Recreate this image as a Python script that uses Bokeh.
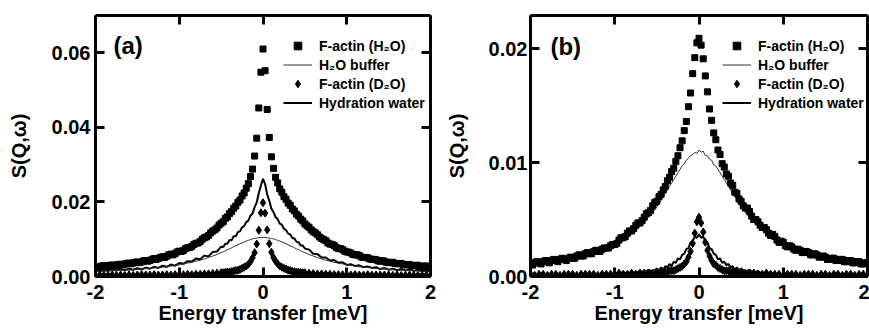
from bokeh.plotting import figure
from bokeh.models import (Range1d, LinearAxis, FixedTicker, Legend, LegendItem,
                          Label, PrintfTickFormatter, CustomJSTickFormatter)
from bokeh.layouts import row
from bokeh.embed import file_html
from bokeh.resources import INLINE

# ---------------- data ----------------
# energy grid used by the lines and the diamond series
ENERGY = [
    -2.0, -1.95, -1.9, -1.85, -1.8, -1.75, -1.7, -1.65, -1.6, -1.55, -1.5, -1.45, -1.4, -1.35, -1.3,
    -1.25, -1.2, -1.15, -1.1, -1.05, -1.0, -0.95, -0.9, -0.85, -0.8, -0.75, -0.7, -0.65, -0.6, -0.55,
    -0.5, -0.475, -0.45, -0.425, -0.4, -0.375, -0.35, -0.325, -0.3, -0.275, -0.25, -0.225, -0.2,
    -0.175, -0.15, -0.125, -0.1, -0.075, -0.05, -0.025,
    0.0,
    0.025, 0.05, 0.075, 0.1, 0.125, 0.15, 0.175, 0.2, 0.225, 0.25, 0.275, 0.3, 0.325, 0.35, 0.375,
    0.4, 0.425, 0.45, 0.475, 0.5,
    0.55, 0.6, 0.65, 0.7, 0.75, 0.8, 0.85, 0.9, 0.95, 1.0, 1.05, 1.1, 1.15, 1.2, 1.25, 1.3, 1.35,
    1.4, 1.45, 1.5, 1.55, 1.6, 1.65, 1.7, 1.75, 1.8, 1.85, 1.9, 1.95, 2.0,
]
# finer energy grid used by the F-actin (H2O) square series
ENERGY_FINE = [
    -2.0, -1.975, -1.95, -1.925, -1.9, -1.875, -1.85, -1.825, -1.8, -1.775,
    -1.75, -1.725, -1.7, -1.675, -1.65, -1.625, -1.6, -1.575, -1.55, -1.525,
    -1.5, -1.475, -1.45, -1.425, -1.4, -1.375, -1.35, -1.325, -1.3, -1.275,
    -1.25, -1.225, -1.2, -1.175, -1.15, -1.125, -1.1, -1.075, -1.05, -1.025,
    -1.0, -0.975, -0.95, -0.925, -0.9, -0.875, -0.85, -0.825, -0.8, -0.775,
    -0.75, -0.725, -0.7, -0.675, -0.65, -0.625, -0.6, -0.575, -0.55, -0.525,
    -0.5, -0.475, -0.45, -0.425, -0.4, -0.375, -0.35, -0.325, -0.3, -0.275,
    -0.25, -0.225, -0.2, -0.175, -0.15, -0.125, -0.1, -0.075, -0.05, -0.025,
    0.0,
    0.025, 0.05, 0.075, 0.1, 0.125, 0.15, 0.175, 0.2, 0.225, 0.25,
    0.275, 0.3, 0.325, 0.35, 0.375, 0.4, 0.425, 0.45, 0.475, 0.5,
    0.525, 0.55, 0.575, 0.6, 0.625, 0.65, 0.675, 0.7, 0.725, 0.75,
    0.775, 0.8, 0.825, 0.85, 0.875, 0.9, 0.925, 0.95, 0.975, 1.0,
    1.025, 1.05, 1.075, 1.1, 1.125, 1.15, 1.175, 1.2, 1.225, 1.25,
    1.275, 1.3, 1.325, 1.35, 1.375, 1.4, 1.425, 1.45, 1.475, 1.5,
    1.525, 1.55, 1.575, 1.6, 1.625, 1.65, 1.675, 1.7, 1.725, 1.75,
    1.775, 1.8, 1.825, 1.85, 1.875, 1.9, 1.925, 1.95, 1.975, 2.0,
]

# panel (a)
FACTIN_H2O_A = [
    0.0027, 0.0025, 0.0026, 0.0028, 0.0029, 0.0027, 0.0028, 0.0030, 0.0031, 0.0029,
    0.0030, 0.0032, 0.0033, 0.0031, 0.0033, 0.0035, 0.0036, 0.0034, 0.0036, 0.0038,
    0.0039, 0.0037, 0.0039, 0.0042, 0.0043, 0.0041, 0.0043, 0.0046, 0.0048, 0.0046,
    0.0048, 0.0051, 0.0053, 0.0051, 0.0054, 0.0058, 0.0060, 0.0058, 0.0061, 0.0066,
    0.0068, 0.0067, 0.0070, 0.0075, 0.0077, 0.0078, 0.0081, 0.0086, 0.0089, 0.0090,
    0.0094, 0.0100, 0.0104, 0.0106, 0.0110, 0.0117, 0.0122, 0.0125, 0.0130, 0.0138,
    0.0143, 0.0147, 0.0156, 0.0160, 0.0169, 0.0174, 0.0183, 0.0189, 0.0199, 0.0205,
    0.0216, 0.0224, 0.0237, 0.0249, 0.0268, 0.0288, 0.0323, 0.0371, 0.0452, 0.0548,
    0.0610,
    0.0552, 0.0448, 0.0373, 0.0321, 0.0290, 0.0266, 0.0251, 0.0235, 0.0226, 0.0214,
    0.0207, 0.0197, 0.0191, 0.0181, 0.0176, 0.0167, 0.0162, 0.0154, 0.0149, 0.0141,
    0.0136, 0.0132, 0.0125, 0.0120, 0.0117, 0.0112, 0.0106, 0.0102, 0.0099, 0.0096,
    0.0090, 0.0087, 0.0086, 0.0083, 0.0078, 0.0075, 0.0075, 0.0072, 0.0068, 0.0066,
    0.0065, 0.0063, 0.0059, 0.0058, 0.0058, 0.0056, 0.0052, 0.0051, 0.0051, 0.0050,
    0.0047, 0.0046, 0.0046, 0.0045, 0.0042, 0.0041, 0.0042, 0.0041, 0.0038, 0.0037,
    0.0038, 0.0038, 0.0035, 0.0034, 0.0035, 0.0035, 0.0032, 0.0031, 0.0032, 0.0032,
    0.0029, 0.0029, 0.0030, 0.0030, 0.0027, 0.0027, 0.0028, 0.0028, 0.0025, 0.0025,
]
H2O_BUFFER_A = [
    0.0013, 0.0014, 0.0014, 0.0015, 0.0015, 0.0016, 0.0016, 0.0017, 0.0017, 0.0018,
    0.0019, 0.0020, 0.0021, 0.0021, 0.0023, 0.0024, 0.0025, 0.0026, 0.0028, 0.0030,
    0.0031, 0.0034, 0.0036, 0.0038, 0.0041, 0.0044, 0.0047, 0.0051, 0.0055, 0.0059,
    0.0064, 0.0066, 0.0069, 0.0072, 0.0074, 0.0077, 0.0080, 0.0082, 0.0085, 0.0088,
    0.0090, 0.0093, 0.0095, 0.0097, 0.0099, 0.0101, 0.0102, 0.0103, 0.0104, 0.0105,
    0.0105,
    0.0105, 0.0104, 0.0103, 0.0102, 0.0101, 0.0099, 0.0097, 0.0095, 0.0093, 0.0090,
    0.0088, 0.0085, 0.0082, 0.0080, 0.0077, 0.0074, 0.0072, 0.0069, 0.0066, 0.0064,
    0.0059, 0.0055, 0.0051, 0.0047, 0.0044, 0.0041, 0.0038, 0.0036, 0.0034, 0.0031,
    0.0030, 0.0028, 0.0026, 0.0025, 0.0024, 0.0023, 0.0021, 0.0021, 0.0020, 0.0019,
    0.0018, 0.0017, 0.0017, 0.0016, 0.0016, 0.0015, 0.0015, 0.0014, 0.0014, 0.0013,
]
FACTIN_D2O_A = [
    0.0003, 0.0004, 0.0003, 0.0003, 0.0004, 0.0003, 0.0004, 0.0003, 0.0004, 0.0003,
    0.0004, 0.0005, 0.0004, 0.0004, 0.0005, 0.0004, 0.0004, 0.0005, 0.0004, 0.0005,
    0.0005, 0.0005, 0.0006, 0.0005, 0.0006, 0.0006, 0.0007, 0.0007, 0.0008, 0.0009,
    0.0010, 0.0010, 0.0011, 0.0012, 0.0012, 0.0013, 0.0015, 0.0016, 0.0017, 0.0019,
    0.0022, 0.0025, 0.0028, 0.0033, 0.0040, 0.0050, 0.0064, 0.0087, 0.0124, 0.0171,
    0.0198,
    0.0170, 0.0125, 0.0088, 0.0065, 0.0051, 0.0041, 0.0034, 0.0028, 0.0025, 0.0022,
    0.0020, 0.0017, 0.0016, 0.0014, 0.0013, 0.0012, 0.0011, 0.0011, 0.0010, 0.0010,
    0.0009, 0.0008, 0.0007, 0.0007, 0.0006, 0.0006, 0.0005, 0.0005, 0.0005, 0.0005,
    0.0004, 0.0005, 0.0004, 0.0004, 0.0005, 0.0004, 0.0004, 0.0004, 0.0004, 0.0004,
    0.0003, 0.0004, 0.0003, 0.0003, 0.0004, 0.0003, 0.0003, 0.0003, 0.0004, 0.0003,
]
HYDRATION_A = [
    0.0017, 0.0014, 0.0018, 0.0015, 0.0019, 0.0016, 0.0020, 0.0017, 0.0021, 0.0018,
    0.0022, 0.0019, 0.0024, 0.0021, 0.0026, 0.0023, 0.0029, 0.0026, 0.0032, 0.0029,
    0.0036, 0.0034, 0.0041, 0.0040, 0.0048, 0.0046, 0.0056, 0.0054, 0.0066, 0.0067,
    0.0080, 0.0079, 0.0088, 0.0088, 0.0098, 0.0097, 0.0108, 0.0108, 0.0119, 0.0121,
    0.0132, 0.0135, 0.0146, 0.0150, 0.0163, 0.0169, 0.0186, 0.0199, 0.0224, 0.0244,
    0.0262,
    0.0248, 0.0220, 0.0203, 0.0182, 0.0173, 0.0159, 0.0154, 0.0142, 0.0139, 0.0128,
    0.0125, 0.0115, 0.0113, 0.0103, 0.0102, 0.0093, 0.0092, 0.0083, 0.0083, 0.0075,
    0.0072, 0.0061, 0.0060, 0.0051, 0.0051, 0.0043, 0.0044, 0.0037, 0.0038, 0.0031,
    0.0033, 0.0028, 0.0030, 0.0025, 0.0027, 0.0023, 0.0025, 0.0020, 0.0023, 0.0018,
    0.0021, 0.0017, 0.0020, 0.0016, 0.0019, 0.0015, 0.0018, 0.0014, 0.0017, 0.0014,
]

# panel (b)
FACTIN_H2O_B = [
    0.0011, 0.0010, 0.0012, 0.0013, 0.0012, 0.0011, 0.0013, 0.0014, 0.0013, 0.0012,
    0.0014, 0.0015, 0.0014, 0.0013, 0.0015, 0.0016, 0.0015, 0.0014, 0.0016, 0.0017,
    0.0016, 0.0016, 0.0018, 0.0019, 0.0018, 0.0018, 0.0020, 0.0021, 0.0020, 0.0020,
    0.0022, 0.0023, 0.0022, 0.0022, 0.0024, 0.0025, 0.0025, 0.0025, 0.0027, 0.0028,
    0.0028, 0.0029, 0.0032, 0.0034, 0.0034, 0.0035, 0.0038, 0.0040, 0.0040, 0.0042,
    0.0045, 0.0047, 0.0047, 0.0049, 0.0052, 0.0055, 0.0056, 0.0058, 0.0062, 0.0065,
    0.0066, 0.0070, 0.0072, 0.0076, 0.0079, 0.0084, 0.0087, 0.0092, 0.0095, 0.0101,
    0.0106, 0.0113, 0.0119, 0.0128, 0.0136, 0.0149, 0.0161, 0.0178, 0.0192, 0.0205,
    0.0209,
    0.0203, 0.0191, 0.0176, 0.0162, 0.0147, 0.0137, 0.0126, 0.0120, 0.0111, 0.0107,
    0.0099, 0.0096, 0.0090, 0.0088, 0.0082, 0.0080, 0.0074, 0.0073, 0.0068, 0.0066,
    0.0062, 0.0060, 0.0060, 0.0057, 0.0053, 0.0050, 0.0050, 0.0048, 0.0045, 0.0043,
    0.0043, 0.0041, 0.0038, 0.0036, 0.0037, 0.0035, 0.0032, 0.0030, 0.0031, 0.0030,
    0.0027, 0.0026, 0.0027, 0.0026, 0.0024, 0.0023, 0.0024, 0.0023, 0.0021, 0.0021,
    0.0022, 0.0021, 0.0019, 0.0019, 0.0020, 0.0019, 0.0017, 0.0017, 0.0018, 0.0017,
    0.0015, 0.0015, 0.0016, 0.0016, 0.0014, 0.0014, 0.0015, 0.0015, 0.0013, 0.0013,
    0.0014, 0.0014, 0.0012, 0.0012, 0.0013, 0.0013, 0.0011, 0.0011, 0.0012, 0.0012,
]
H2O_BUFFER_B = [
    0.0011, 0.0012, 0.0012, 0.0012, 0.0013, 0.0013, 0.0014, 0.0014, 0.0015, 0.0016,
    0.0016, 0.0017, 0.0018, 0.0019, 0.0020, 0.0021, 0.0022, 0.0024, 0.0025, 0.0027,
    0.0028, 0.0030, 0.0033, 0.0035, 0.0038, 0.0041, 0.0044, 0.0048, 0.0052, 0.0056,
    0.0061, 0.0064, 0.0067, 0.0070, 0.0073, 0.0076, 0.0079, 0.0082, 0.0085, 0.0088,
    0.0091, 0.0094, 0.0097, 0.0099, 0.0102, 0.0104, 0.0106, 0.0107, 0.0109, 0.0108,
    0.0111,
    0.0109, 0.0110, 0.0106, 0.0106, 0.0103, 0.0102, 0.0098, 0.0097, 0.0094, 0.0091,
    0.0088, 0.0085, 0.0082, 0.0079, 0.0076, 0.0073, 0.0070, 0.0067, 0.0064, 0.0061,
    0.0056, 0.0052, 0.0048, 0.0044, 0.0041, 0.0038, 0.0035, 0.0033, 0.0030, 0.0028,
    0.0027, 0.0025, 0.0024, 0.0022, 0.0021, 0.0020, 0.0019, 0.0018, 0.0017, 0.0016,
    0.0016, 0.0015, 0.0014, 0.0014, 0.0013, 0.0013, 0.0012, 0.0012, 0.0012, 0.0011,
]
FACTIN_D2O_B = [
    0.0002, 0.0001, 0.0002, 0.0002, 0.0001, 0.0002, 0.0002, 0.0001, 0.0002, 0.0002,
    0.0002, 0.0001, 0.0002, 0.0002, 0.0002, 0.0002, 0.0001, 0.0002, 0.0002, 0.0002,
    0.0002, 0.0003, 0.0002, 0.0002, 0.0003, 0.0002, 0.0003, 0.0003, 0.0003, 0.0003,
    0.0003, 0.0003, 0.0003, 0.0004, 0.0004, 0.0004, 0.0005, 0.0005, 0.0005, 0.0006,
    0.0007, 0.0008, 0.0009, 0.0011, 0.0013, 0.0017, 0.0022, 0.0029, 0.0038, 0.0048,
    0.0052,
    0.0047, 0.0039, 0.0030, 0.0023, 0.0018, 0.0014, 0.0011, 0.0010, 0.0008, 0.0007,
    0.0006, 0.0005, 0.0005, 0.0005, 0.0004, 0.0004, 0.0003, 0.0003, 0.0003, 0.0003,
    0.0003, 0.0002, 0.0003, 0.0002, 0.0002, 0.0003, 0.0002, 0.0002, 0.0002, 0.0001,
    0.0002, 0.0002, 0.0002, 0.0001, 0.0002, 0.0002, 0.0002, 0.0001, 0.0002, 0.0002,
    0.0001, 0.0002, 0.0002, 0.0001, 0.0002, 0.0002, 0.0001, 0.0002, 0.0002, 0.0001,
]
HYDRATION_B = [
    0.0001, 0.0003, 0.0000, 0.0002, 0.0001, 0.0003, 0.0001, 0.0002, 0.0000, 0.0003,
    0.0001, 0.0002, 0.0001, 0.0003, 0.0001, 0.0002, 0.0002, 0.0001, 0.0003, 0.0001,
    0.0003, 0.0002, 0.0004, 0.0002, 0.0004, 0.0003, 0.0005, 0.0003, 0.0006, 0.0004,
    0.0007, 0.0005, 0.0008, 0.0006, 0.0009, 0.0008, 0.0011, 0.0009, 0.0013, 0.0012,
    0.0016, 0.0015, 0.0019, 0.0020, 0.0024, 0.0025, 0.0030, 0.0031, 0.0035, 0.0034,
    0.0037,
    0.0034, 0.0035, 0.0031, 0.0030, 0.0025, 0.0024, 0.0020, 0.0019, 0.0015, 0.0016,
    0.0012, 0.0013, 0.0010, 0.0011, 0.0008, 0.0009, 0.0006, 0.0008, 0.0005, 0.0007,
    0.0004, 0.0006, 0.0003, 0.0005, 0.0002, 0.0004, 0.0002, 0.0003, 0.0001, 0.0003,
    0.0002, 0.0003, 0.0001, 0.0002, 0.0000, 0.0003, 0.0001, 0.0002, 0.0001, 0.0003,
    0.0000, 0.0002, 0.0001, 0.0003, 0.0001, 0.0002, 0.0000, 0.0002, 0.0001, 0.0002,
]

X_TICKS = [-2, -1, 0, 1, 2]
X_TICK_LABELS = ["-2", "-1", "0", "1", "2"]
Y_TICKS_A = [0.0, 0.02, 0.04, 0.06]
Y_TICKS_B = [0.0, 0.01, 0.02]
SERIES_LABELS = ["F-actin (H\u2082O)", "H\u2082O buffer", "F-actin (D\u2082O)", "Hydration water"]
X_LABEL = "Energy transfer [meV]"
Y_LABEL = "S(Q,\u03c9)"

for name, arr, grid in [("a1", FACTIN_H2O_A, ENERGY_FINE), ("a2", H2O_BUFFER_A, ENERGY),
                        ("a3", FACTIN_D2O_A, ENERGY), ("a4", HYDRATION_A, ENERGY),
                        ("b1", FACTIN_H2O_B, ENERGY_FINE), ("b2", H2O_BUFFER_B, ENERGY),
                        ("b3", FACTIN_D2O_B, ENERGY), ("b4", HYDRATION_B, ENERGY)]:
    if len(arr) != len(grid):
        print("length mismatch", name, len(arr), len(grid))

FONT = "Liberation Sans"
H = 329


def style_axis(ax, ticks, fmt=None, labels=True):
    ax.ticker = FixedTicker(ticks=ticks)
    ax.axis_line_width = 3
    ax.axis_line_color = "black"
    ax.major_tick_line_width = 3
    ax.major_tick_line_color = "black"
    ax.major_tick_in = 9
    ax.major_tick_out = 0
    ax.minor_tick_line_color = None
    if labels:
        ax.formatter = fmt
        ax.major_label_text_font = FONT
        ax.major_label_text_font_style = "bold"
        ax.major_label_text_font_size = "20px"
        ax.major_label_text_color = "black"
    else:
        ax.formatter = CustomJSTickFormatter(code="return ''")
        ax.major_label_text_font_size = "0px"
        ax.major_label_standoff = 0


def make_panel(sq, buf, d2o, hyd, y_end, y_ticks, width, ml, mr, tag, tag_xy, leg_loc,
               tick_standoff, ylab_standoff):
    p = figure(width=width, height=H, x_range=Range1d(-2, 2), y_range=Range1d(0, y_end),
               output_backend="svg", toolbar_location=None,
               min_border_left=ml, min_border_right=mr, min_border_top=15, min_border_bottom=53)
    p.grid.visible = False
    p.outline_line_color = None
    p.background_fill_color = "white"
    p.border_fill_color = "white"

    xa = p.below[0]
    style_axis(xa, X_TICKS, PrintfTickFormatter(format="%d"))
    xa.major_label_overrides = {t: l for t, l in zip(X_TICKS, X_TICK_LABELS)}
    xa.major_label_standoff = 8
    xa.axis_label = X_LABEL
    xa.axis_label_text_font = FONT
    xa.axis_label_text_font_style = "bold"
    xa.axis_label_text_font_size = "20px"
    xa.axis_label_text_color = "black"
    xa.axis_label_standoff = 0

    ya = p.left[0]
    style_axis(ya, y_ticks, PrintfTickFormatter(format="%.2f"))
    ya.major_label_standoff = tick_standoff
    ya.axis_label = Y_LABEL
    ya.axis_label_text_font = FONT
    ya.axis_label_text_font_style = "bold"
    ya.axis_label_text_font_size = "20px"
    ya.axis_label_text_color = "black"
    ya.axis_label_standoff = ylab_standoff

    top = LinearAxis()
    style_axis(top, X_TICKS, labels=False)
    p.add_layout(top, "above")
    right = LinearAxis()
    style_axis(right, y_ticks, labels=False)
    p.add_layout(right, "right")

    r_hyd = p.line(ENERGY, hyd, line_width=2, color="black")
    r_buf = p.line(ENERGY, buf, line_width=1, color="#333333")
    r_d2o = p.scatter(ENERGY, d2o, marker="diamond", size=8, color="black")
    r_sq = p.scatter(ENERGY_FINE, sq, marker="square", size=6, color="black")

    items = [LegendItem(label=SERIES_LABELS[0], renderers=[r_sq]),
             LegendItem(label=SERIES_LABELS[1], renderers=[r_buf]),
             LegendItem(label=SERIES_LABELS[2], renderers=[r_d2o]),
             LegendItem(label=SERIES_LABELS[3], renderers=[r_hyd])]
    leg = Legend(items=items, location=leg_loc, glyph_width=29, glyph_height=19,
                 label_height=19, label_standoff=7, spacing=0, padding=0, margin=0,
                 border_line_color=None, background_fill_alpha=0,
                 label_text_font=FONT, label_text_font_style="bold",
                 label_text_font_size="14px", label_text_color="black")
    p.add_layout(leg)

    p.add_layout(Label(x=tag_xy[0], y=tag_xy[1], text=tag, text_font=FONT,
                       text_font_style="bold", text_font_size="24px",
                       text_baseline="top", text_color="black"))
    return p


pa = make_panel(FACTIN_H2O_A, H2O_BUFFER_A, FACTIN_D2O_A, HYDRATION_A, 0.07, Y_TICKS_A,
                440, 95, 10, "(a)", (-1.785, 0.0655), (188, 164), 5, 19)
pb = make_panel(FACTIN_H2O_B, H2O_BUFFER_B, FACTIN_D2O_B, HYDRATION_B, 0.0229, Y_TICKS_B,
                429, 90, 2, "(b)", (-1.763, 0.0214), (192, 164), 3, 18)

layout = row(pa, pb)
open("out.html", "w").write(file_html(layout, INLINE))
